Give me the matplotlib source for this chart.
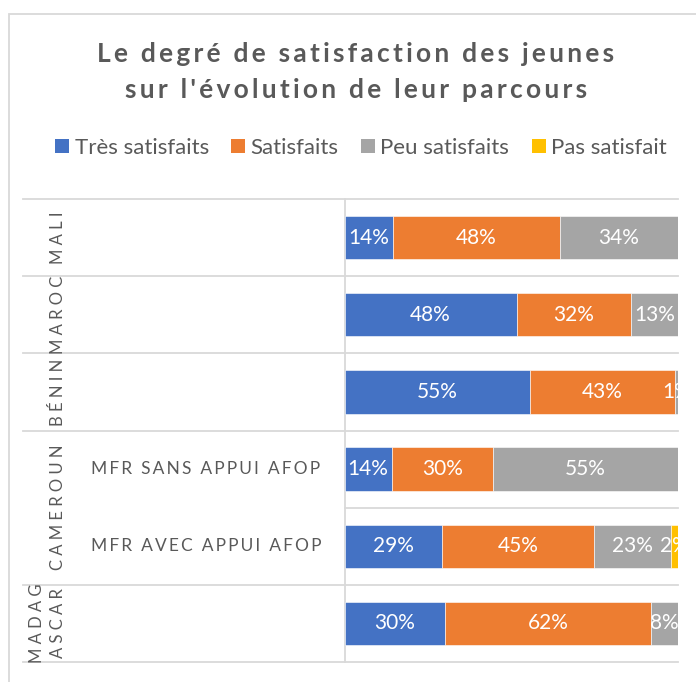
import numpy as np
import pandas as pd
import matplotlib
matplotlib.use("Agg")
import matplotlib.pyplot as plt
from matplotlib.lines import Line2D
from matplotlib.patches import Rectangle, Patch
from matplotlib.transforms import blended_transform_factory

plt.rcParams['font.family'] = ['Lato', 'DejaVu Sans']

# data (labels show raw %, bars are 100% stacked)
rows = ['Mali', 'Maroc', 'Bénin', 'MFR sans appui AFOP', 'MFR avec appui AFOP', 'Madagascar']
tres_satisfaits = [14, 48, 55, 14, 29, 30]
satisfaits = [48, 32, 43, 30, 45, 62]
peu_satisfaits = [34, 13, 1, 55, 23, 8]
pas_satisfait = [0, 0, 0, 0, 2, 0]

series_names = ['Très satisfaits', 'Satisfaits', 'Peu satisfaits', 'Pas satisfait']
colors = ['#4472C4', '#ED7D31', '#A5A5A5', '#FFC000']

countries = ['MALI', 'MAROC', 'BÉNIN', 'CAMEROUN', 'MADAG\nASCAR']
country_rows = [[0], [1], [2], [3, 4], [5]]
sub_labels = {3: 'MFR SANS APPUI AFOP', 4: 'MFR AVEC APPUI AFOP'}

df = pd.DataFrame({'Très satisfaits': tres_satisfaits, 'Satisfaits': satisfaits,
                   'Peu satisfaits': peu_satisfaits, 'Pas satisfait': pas_satisfait}, index=rows)
share = df.div(df.sum(axis=1), axis=0)

GREY_TXT = '#595959'
GRID = '#D9D9D9'
W, H = 696, 682


def spaced(s, sep='\u2009'):
    return sep.join(s)


fig = plt.figure(figsize=(W / 100, H / 100), dpi=100)
fig.patches.append(Rectangle((9 / W, -0.1), 1.2, 1.1 - 14 / H, transform=fig.transFigure,
                             fill=False, edgecolor=GRID, linewidth=1.3))

ax = fig.add_axes([344.5 / W, 1 - 662 / H, (678 - 344.5) / W, (662 - 199) / H])
y = np.arange(len(rows))
left = np.zeros(len(rows))
for name, col in zip(series_names, colors):
    vals = share[name].values
    ax.barh(y, vals, left=left, height=0.56, color=col, edgecolor='white', linewidth=0.4, zorder=3)
    for i, (v, raw) in enumerate(zip(vals, df[name].values)):
        if raw > 0:
            ax.text(left[i] + v / 2, y[i], f"{raw}%", ha='center', va='center',
                    color='white', fontsize=15, clip_on=True, zorder=4)
    left += vals

ax.set_xlim(0, 1)
ax.set_ylim(len(rows) - 0.5, -0.5)
ax.set_xticks([])
ax.set_yticks([])
for sp in ['top', 'right', 'bottom']:
    ax.spines[sp].set_visible(False)
ax.spines['left'].set_color(GRID)
ax.spines['left'].set_linewidth(1.3)
for b in np.arange(-0.5, len(rows), 1.0):
    ax.axhline(b, color=GRID, linewidth=1.3, zorder=1, clip_on=False)

# category labels on the left
tr = blended_transform_factory(fig.transFigure, ax.transData)
for b in [-0.5, 0.5, 1.5, 2.5, 4.5, 5.5]:
    fig.add_artist(Line2D([23 / W, 344.5 / W], [b, b], transform=tr, color=GRID, linewidth=1.3))

for name, idx in zip(countries, country_rows):
    yc = np.mean(idx)
    if '\n' in name:
        parts = name.split('\n')
        for k, p in enumerate(parts):
            fig.text((37 + 21 * k) / W, yc, ' '.join(p), transform=tr, rotation=90,
                     ha='center', va='center', color=GREY_TXT, fontsize=12)
    else:
        fig.text(58 / W, yc, ' '.join(name), transform=tr, rotation=90,
                 ha='center', va='center', color=GREY_TXT, fontsize=12)

for i, lab in sub_labels.items():
    fig.text(206 / W, y[i], '  '.join(spaced(w) for w in lab.split(' ')), transform=tr,
             ha='center', va='center', color=GREY_TXT, fontsize=12.5)

# title
fig.text(356 / W, 1 - 62 / H, spaced('Le degré de satisfaction des jeunes'), ha='center',
         va='baseline', fontsize=19, fontweight='bold', color=GREY_TXT)
fig.text(356 / W, 1 - 98 / H, spaced("sur l'évolution de leur parcours"), ha='center',
         va='baseline', fontsize=19, fontweight='bold', color=GREY_TXT)

handles = [Patch(facecolor=c, edgecolor='none') for c in colors]
fig.legend(handles, series_names, loc='center', bbox_to_anchor=(361 / W, 1 - 148 / H), ncol=4,
           frameon=False, fontsize=16, labelcolor=GREY_TXT, handlelength=0.63, handleheight=0.63,
           handletextpad=0.25, columnspacing=1.0, borderpad=0)

fig.savefig('out.png', dpi=100)
